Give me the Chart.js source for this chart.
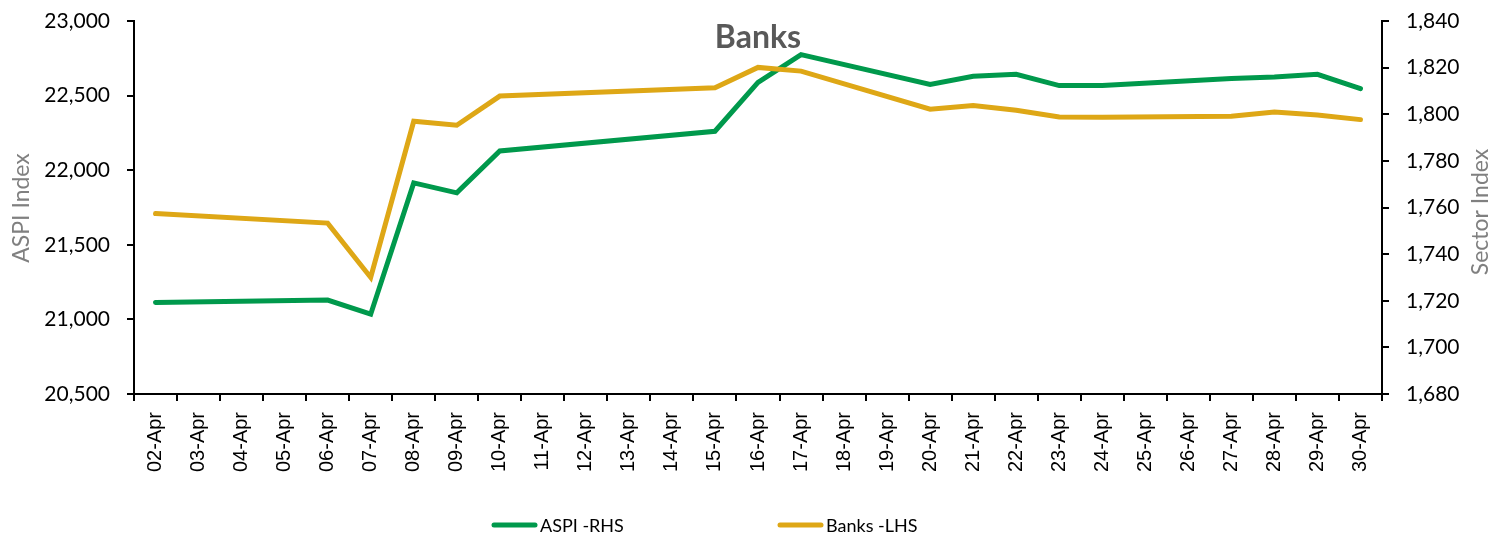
<!DOCTYPE html>
<html>
<head>
<meta charset="utf-8">
<script src="https://cdn.jsdelivr.net/npm/chart.js@4.4.1/dist/chart.umd.min.js"></script>
<style>
  html, body { margin: 0; padding: 0; background: #fff; }
  #wrap { width: 1496px; height: 537px; }
</style>
</head>
<body>
<div id="wrap"><canvas id="bankChart"></canvas></div>
<script>
// April trading days, calendar axis (non-trading days left empty)
const dates = ['02-Apr','03-Apr','04-Apr','05-Apr','06-Apr','07-Apr','08-Apr','09-Apr','10-Apr','11-Apr',
  '12-Apr','13-Apr','14-Apr','15-Apr','16-Apr','17-Apr','18-Apr','19-Apr','20-Apr','21-Apr',
  '22-Apr','23-Apr','24-Apr','25-Apr','26-Apr','27-Apr','28-Apr','29-Apr','30-Apr'];

// green line, left axis
const aspi = [21113, null, null, null, 21130, 21035, 21915, 21848, 22129, null,
  null, null, null, 22261, 22588, 22775, null, null, 22574, 22629,
  22643, 22567, 22567, null, null, 22615, 22625, 22643, 22547];

// gold line, right axis
const banks = [1757.4, null, null, null, 1753.3, 1730.0, 1797.0, 1795.3, 1807.8, null,
  null, null, null, 1811.4, 1820.1, 1818.5, null, null, 1802.2, 1803.7,
  1801.7, 1798.8, 1798.7, null, null, 1799.1, 1801.0, 1799.7, 1797.7];

const seriesNames = ['ASPI -RHS', 'Banks -LHS'];
const chartTitle = 'Banks';
const leftTitle = 'ASPI Index';
const rightTitle = 'Sector Index';

const GREEN = '#00994C';
const GOLD = '#DEA716';

Chart.defaults.font.family = 'Lato, "Open Sans", sans-serif';
Chart.defaults.color = '#000';

const fmt = v => Number(v).toLocaleString('en-US');

// title, rotated axis titles and the bottom legend
const overlay = {
  id: 'overlay',
  afterDraw(chart) {
    const { ctx, chartArea } = chart;
    ctx.save();
    ctx.textAlign = 'center';
    ctx.font = 'bold 32px Lato';
    ctx.fillStyle = '#595959';
    ctx.textBaseline = 'alphabetic';
    ctx.fillText(chartTitle, (chartArea.left + chartArea.right) / 2, 48);

    ctx.font = '23px Lato';
    ctx.fillStyle = '#808080';
    ctx.textBaseline = 'middle';
    ctx.save();
    ctx.translate(22, 208);
    ctx.rotate(-Math.PI / 2);
    ctx.fillText(leftTitle, 0, 0);
    ctx.restore();
    ctx.save();
    ctx.translate(1481, 212);
    ctx.rotate(-Math.PI / 2);
    ctx.fillText(rightTitle, 0, 0);
    ctx.restore();

    // legend
    const ly = 525;
    let lx = 492;
    ctx.font = '18px Lato';
    ctx.textAlign = 'left';
    chart.data.datasets.forEach(ds => {
      ctx.strokeStyle = ds.borderColor;
      ctx.lineWidth = 5;
      ctx.lineCap = 'round';
      ctx.beginPath();
      ctx.moveTo(lx + 2, ly);
      ctx.lineTo(lx + 43, ly);
      ctx.stroke();
      ctx.fillStyle = '#000';
      ctx.fillText(ds.label, lx + 48, ly + 1);
      lx += 286;
    });
    ctx.restore();
  }
};

const axisGrid = { drawOnChartArea: false, drawTicks: true, tickLength: 7, color: '#000', lineWidth: 2 };
const axisBorder = { display: true, color: '#000', width: 2 };

// fixed axis widths, no extra label padding above/below the plot
const fitY = w => s => { s.width = w; s.paddingTop = 0; s.paddingBottom = 0; };

new Chart(document.getElementById('bankChart'), {
  type: 'line',
  data: {
    labels: dates,
    datasets: [
      {
        label: seriesNames[0],
        data: aspi,
        yAxisID: 'y',
        borderColor: GREEN,
        backgroundColor: GREEN,
        borderWidth: 5,
        borderCapStyle: 'round',
        pointRadius: 0,
        spanGaps: true,
        tension: 0,
        order: 1
      },
      {
        label: seriesNames[1],
        data: banks,
        yAxisID: 'y1',
        borderColor: GOLD,
        backgroundColor: GOLD,
        borderWidth: 5,
        borderCapStyle: 'round',
        pointRadius: 0,
        spanGaps: true,
        tension: 0,
        order: 0
      }
    ]
  },
  options: {
    responsive: true,
    maintainAspectRatio: false,
    animation: false,
    layout: { padding: { top: 21, bottom: 60, left: 0, right: 0 } },
    plugins: {
      legend: { display: false },
      title: { display: false },
      tooltip: { enabled: false }
    },
    scales: {
      x: {
        offset: true,
        grid: Object.assign({ offset: true }, axisGrid),
        border: axisBorder,
        ticks: {
          autoSkip: false,
          minRotation: 90,
          maxRotation: 90,
          padding: 11,
          font: { family: '"Liberation Sans", Arial, sans-serif', size: 20 },
          color: '#000'
        },
        afterFit: s => { s.height = 83; }
      },
      y: {
        position: 'left',
        min: 20500,
        max: 23000,
        grid: axisGrid,
        border: axisBorder,
        ticks: { stepSize: 500, padding: 17, font: { size: 21 }, callback: fmt },
        afterFit: fitY(134)
      },
      y1: {
        position: 'right',
        min: 1680,
        max: 1840,
        grid: axisGrid,
        border: axisBorder,
        ticks: { stepSize: 20, padding: 17, font: { size: 21 }, callback: fmt },
        afterFit: fitY(114)
      }
    }
  },
  plugins: [overlay]
});
</script>
</body>
</html>
